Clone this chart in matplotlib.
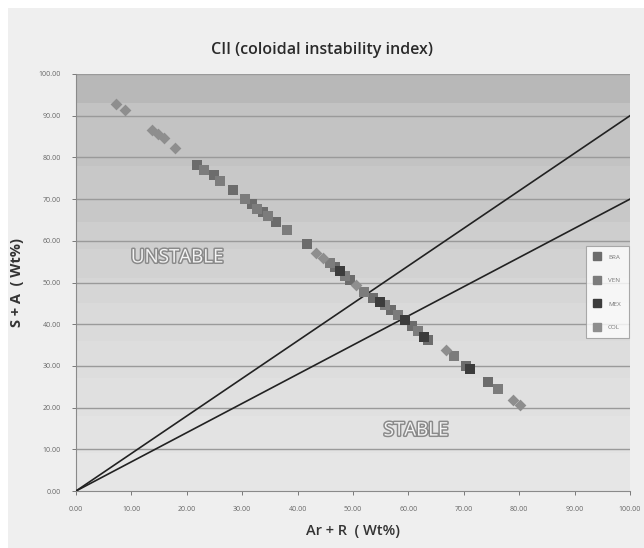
import matplotlib.pyplot as plt
import matplotlib.patheffects as pe
import numpy as np
from matplotlib.patches import Rectangle
from matplotlib.lines import Line2D

plt.rcParams['font.family'] = ['Open Sans', 'DejaVu Sans']

# Ar + R vs S + A for each crude origin
bra_x = [21.8, 24.9, 28.3, 31.8, 33.8, 36.1, 41.7, 46.8, 49.5, 53.6, 56.9, 60.6, 63.5, 70.4, 74.4]
bra_y = [78.2, 75.8, 72.2, 68.8, 66.9, 64.5, 59.2, 53.7, 50.6, 46.3, 43.4, 39.6, 36.2, 30.0, 26.1]
ven_x = [23.1, 26.0, 30.5, 32.7, 34.7, 38.1, 45.8, 48.6, 52.0, 55.8, 58.1, 61.7, 68.2, 76.2]
ven_y = [77.0, 74.3, 70.0, 67.6, 66.0, 62.6, 54.7, 51.6, 47.7, 44.6, 42.2, 38.4, 32.4, 24.5]
mex_x = [47.7, 54.9, 59.4, 62.8, 71.1]
mex_y = [52.8, 45.3, 41.0, 37.0, 29.3]
col_x = [7.2, 8.8, 13.7, 14.8, 15.9, 17.9, 43.3, 44.6, 50.5, 66.8, 78.9, 80.1]
col_y = [92.8, 91.4, 86.6, 85.6, 84.7, 82.3, 57.1, 55.9, 49.4, 33.8, 21.8, 20.6]

series = ['BRA', 'VEN', 'MEX', 'COL']
series_cols = ['#6c6c6c', '#7c7c7c', '#3c3c3c', '#8e8e8e']

# CII limits
cii_limits = [0.9, 0.7]

fig = plt.figure(figsize=(6.44, 5.48), dpi=100)
fig.patch.set_facecolor('white')
fig.patches.append(Rectangle((8 / 644, 0), 1, 1 - 8 / 548, transform=fig.transFigure,
                             facecolor='#efefef', edgecolor='none', zorder=-10))

ax = fig.add_axes([76 / 644, 57 / 548, 554 / 644, 417 / 548])

# stepped gray background, darker towards the top
band_edges = [0, 9, 18, 27, 36, 45, 51, 58, 64.5, 78, 93, 100]
band_cols = ['#e6e6e6', '#e3e3e3', '#e0e0e0', '#dddddd', '#dadada', '#d6d6d6',
             '#d2d2d2', '#cecece', '#c8c8c8', '#c3c3c3', '#b8b8b8']
for lo, hi, c in zip(band_edges[:-1], band_edges[1:], band_cols):
    ax.axhspan(lo, hi, color=c, lw=0, zorder=0)

for yv in range(10, 101, 10):
    ax.axhline(yv, color='#9a9a9a', lw=1.0, zorder=1)

xl = np.array([0, 100])
for k in cii_limits:
    ax.plot(xl, k * xl, color='#222222', lw=1.2, zorder=3)

ax.scatter(bra_x, bra_y, marker='s', s=42, color=series_cols[0], lw=0, zorder=4)
ax.scatter(ven_x, ven_y, marker='s', s=42, color=series_cols[1], lw=0, zorder=4)
ax.scatter(mex_x, mex_y, marker='s', s=42, color=series_cols[2], lw=0, zorder=4)
ax.scatter(col_x, col_y, marker='D', s=36, color=series_cols[3], lw=0, zorder=4)

outline = [pe.withStroke(linewidth=2.2, foreground='#8a8a8a')]
ax.text(18.3, 56, 'UNSTABLE', fontsize=13.5, color='#f4f4f4',
        ha='center', va='center', path_effects=outline, zorder=5)
ax.text(61.4, 14.5, 'STABLE', fontsize=13.5, color='#f4f4f4',
        ha='center', va='center', path_effects=outline, zorder=5)

ax.set_xlim(0, 100)
ax.set_ylim(0, 100)
ax.set_xticks(np.arange(0, 101, 10))
ax.set_yticks(np.arange(0, 101, 10))
ax.set_xticklabels(['%.2f' % v for v in np.arange(0, 101, 10)])
ax.set_yticklabels(['%.2f' % v for v in np.arange(0, 101, 10)])
ax.tick_params(labelsize=5, colors='#666666', length=3, width=0.6, pad=8)
for s in ['top', 'right']:
    ax.spines[s].set_visible(False)
for s in ['left', 'bottom']:
    ax.spines[s].set_color('#8a8a8a')
    ax.spines[s].set_linewidth(0.8)

ax.set_xlabel('Ar + R  ( Wt%)', fontsize=10.5, color='#333333', fontweight='semibold', labelpad=8)
ax.set_ylabel('S + A  ( Wt%)', fontsize=10.5, color='#333333', fontweight='bold', labelpad=10)
fig.text(0.5, 0.909, 'CII (coloidal instability index)', fontsize=11.5, color='#2a2a2a',
         fontweight='semibold', ha='center', va='center')

handles = [Line2D([], [], ls='none', marker='s', markersize=6, color=c) for c in series_cols]
leg = ax.legend(handles, series, loc='upper left', bbox_to_anchor=(0.915, 0.595), fontsize=4.5,
                frameon=True, fancybox=False, handletextpad=1.2,
                labelspacing=2.9, borderpad=1.3, handlelength=1.0, labelcolor='#777777')
leg.get_frame().set_edgecolor('#999999')
leg.get_frame().set_facecolor('white')
leg.get_frame().set_linewidth(0.8)

fig.savefig('out.png', dpi=100)
